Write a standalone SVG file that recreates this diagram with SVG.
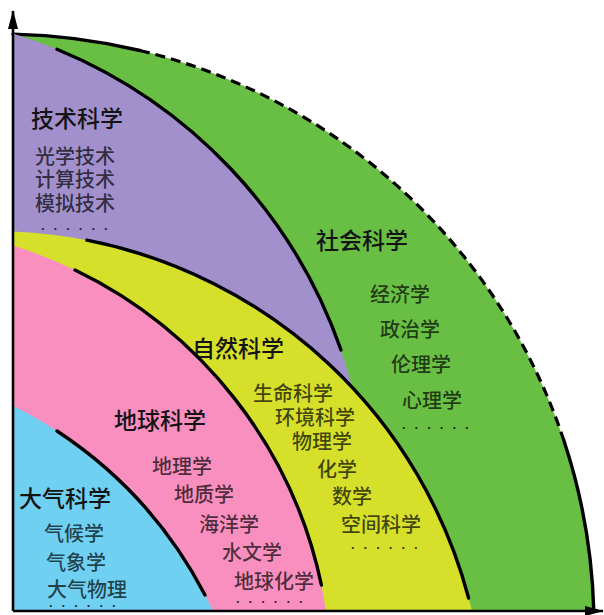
<svg xmlns="http://www.w3.org/2000/svg" width="604" height="615" viewBox="0 0 604 615">
<defs>
<style>
.edge{fill:none;stroke:#000;stroke-width:3.4;stroke-linecap:round}
.dash{fill:none;stroke:#000;stroke-width:3.2;stroke-dasharray:10 6}
.axis{fill:none;stroke:#000;stroke-width:2.6}
.head{font-family:"Noto Sans CJK SC","Noto Sans CJK JP",sans-serif;font-size:23px;font-weight:500;fill:#141414}
.item{font-family:"Noto Sans CJK SC","Noto Sans CJK JP",sans-serif;font-size:20px;font-weight:500;fill:#000;fill-opacity:0.7}
.dots{font-family:"Liberation Sans",sans-serif;font-size:13px;font-weight:bold;letter-spacing:9px;fill:#000;fill-opacity:0.78}
</style>
<marker id="arr" viewBox="0 0 19 10" refX="18" refY="5" markerWidth="7.3" markerHeight="3.85" orient="auto" markerUnits="strokeWidth">
<path d="M0,0 L19,5 L0,10 Z" fill="#000"/>
</marker>
</defs>
<rect width="604" height="615" fill="#fff"/>
<g id="social">
<path d="M13,611 L13,34.1 A593,593 0 0 1 593.8,611 Z" fill="#69bf44"/>
<path class="edge" d="M13,34.1 A593,593 0 0 1 140,50.5"/>
<path class="dash" d="M140,50.5 A593,593 0 0 1 563.7,440"/>
<path class="edge" d="M563.7,440 A593,593 0 0 1 593.8,611"/>
<text class="head" x="316" y="249">社会科学</text>
<text class="item" x="370" y="302">经济学</text>
<text class="item" x="380" y="337">政治学</text>
<text class="item" x="391" y="372">伦理学</text>
<text class="item" x="402" y="408">心理学</text>
<text class="dots" x="402" y="428.5">......</text>
</g>
<g id="technical">
<path d="M13,611 L13,33.5 A505,505 0 0 1 360,611 Z" fill="#a190cc"/>
<path class="edge" d="M57,49.3 A505,505 0 0 1 341,350"/>
<text class="head" x="31" y="127">技术科学</text>
<text class="item" x="35" y="164">光学技术</text>
<text class="item" x="35" y="187">计算技术</text>
<text class="item" x="35" y="211">模拟技术</text>
<text class="dots" x="41" y="229.5">......</text>
</g>
<g id="natural">
<path d="M13,611 L13,231.4 A493,493 0 0 1 472,611 Z" fill="#d6df2a"/>
<path class="edge" d="M87,240.2 A493,493 0 0 1 468.6,598"/>
<text class="head" x="192" y="357">自然科学</text>
<text class="item" x="253" y="401">生命科学</text>
<text class="item" x="275" y="425">环境科学</text>
<text class="item" x="292" y="449">物理学</text>
<text class="item" x="317" y="477">化学</text>
<text class="item" x="332" y="504">数学</text>
<text class="item" x="341" y="532">空间科学</text>
<text class="dots" x="351" y="548.5">......</text>
</g>
<g id="earth">
<path d="M13,611 L13,245.6 A453,453 0 0 1 326,611 Z" fill="#f98fbf"/>
<path class="edge" d="M75,270 A453,453 0 0 1 321.4,585"/>
<text class="head" x="114" y="429">地球科学</text>
<text class="item" x="152" y="474">地理学</text>
<text class="item" x="174" y="502">地质学</text>
<text class="item" x="199" y="532">海洋学</text>
<text class="item" x="222" y="560">水文学</text>
<text class="item" x="234" y="589">地球化学</text>
<text class="dots" x="236" y="602.5">......</text>
</g>
<g id="atmospheric">
<path d="M13,611 L13,405.7 A439,439 0 0 1 213,611 Z" fill="#6fd0f2"/>
<path class="edge" d="M57,431 A439,439 0 0 1 205,595"/>
<text class="head" x="19" y="507">大气科学</text>
<text class="item" x="44" y="541">气候学</text>
<text class="item" x="46" y="570">气象学</text>
<text class="item" x="47" y="597">大气物理</text>
<text class="dots" x="49" y="606.5">......</text>
</g>
<g id="connectors">
<line class="axis" x1="13" y1="611" x2="13" y2="11" marker-end="url(#arr)"/>
<line class="axis" x1="13" y1="611" x2="603" y2="611" marker-end="url(#arr)"/>
</g>
</svg>
